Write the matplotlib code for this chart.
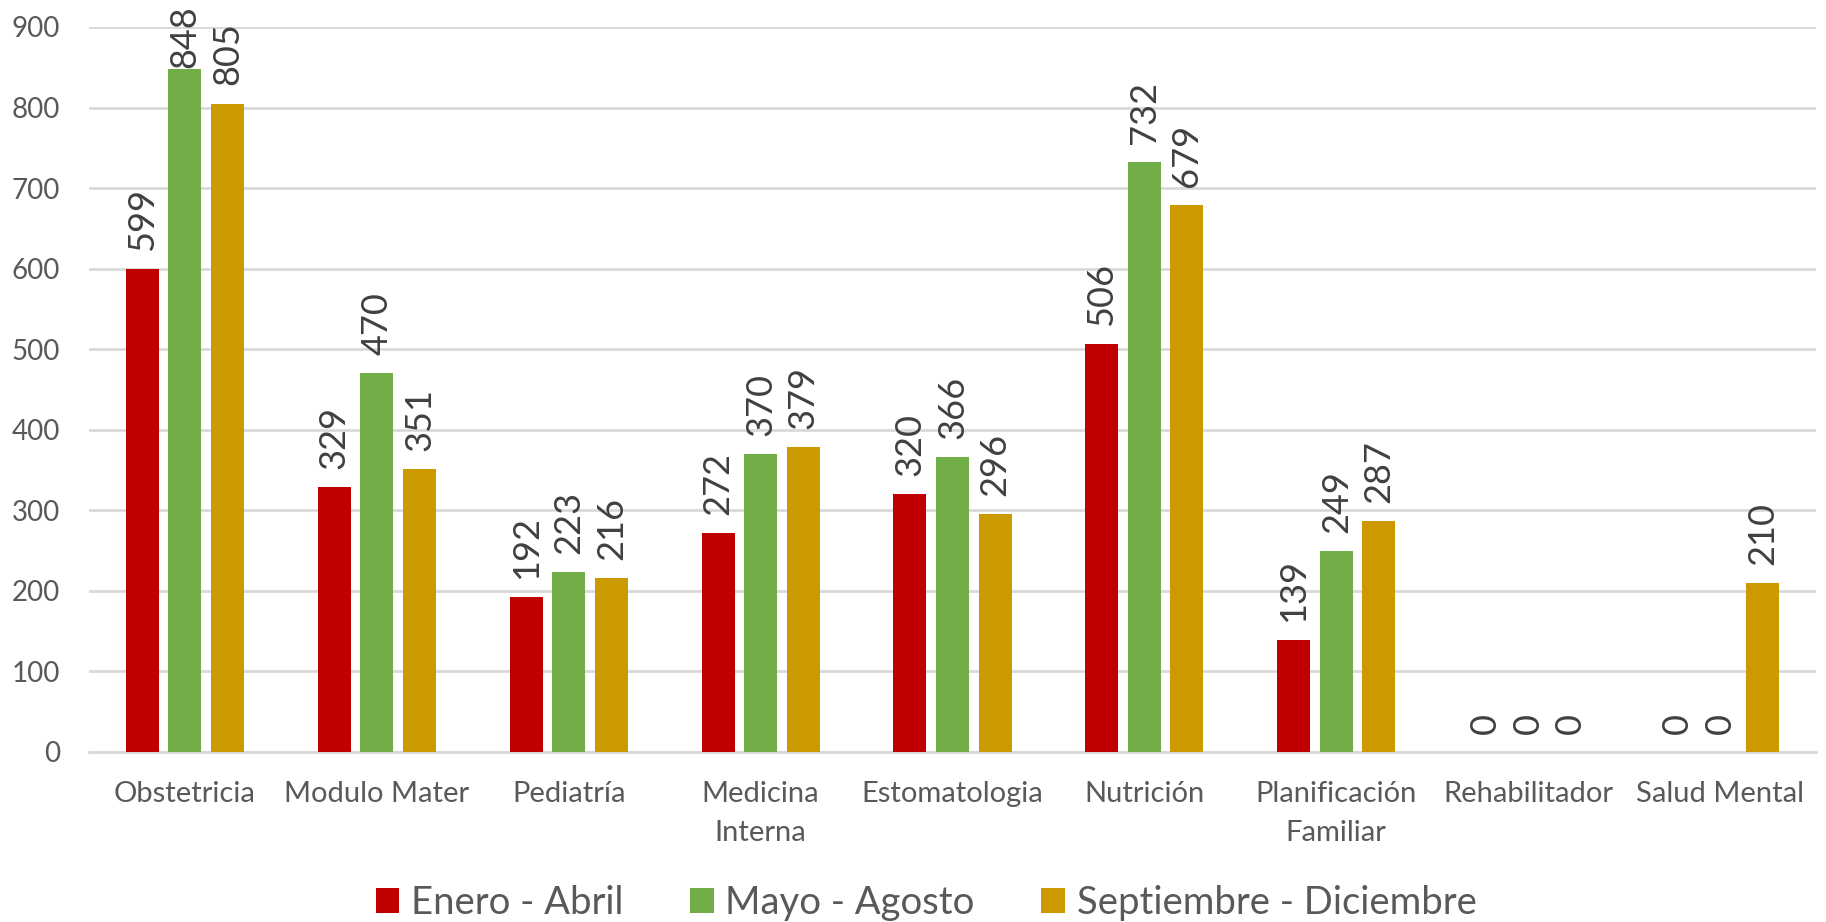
import matplotlib
matplotlib.use("Agg")
import matplotlib.pyplot as plt
import numpy as np

categories = ["Obstetricia", "Modulo Mater", "Pediatría", "Medicina\nInterna", "Estomatologia",
              "Nutrición", "Planificación\nFamiliar", "Rehabilitador", "Salud Mental"]
series_names = ["Enero - Abril", "Mayo - Agosto", "Septiembre - Diciembre"]
enero_abril = [599, 329, 192, 272, 320, 506, 139, 0, 0]
mayo_agosto = [848, 470, 223, 370, 366, 732, 249, 0, 0]
sept_dic = [805, 351, 216, 379, 296, 679, 287, 0, 210]
colors = ["#C00000", "#70AD47", "#CC9A00"]
yticks = [0, 100, 200, 300, 400, 500, 600, 700, 800, 900]

plt.rcParams['font.family'] = ['Lato', 'DejaVu Sans']
text_color = "#595959"
grid_color = "#D9D9D9"

DPI = 100
fig = plt.figure(figsize=(18.26, 9.22), dpi=DPI)
ax = fig.add_axes([89/1826, 1 - 752/922, (1816-89)/1826, (752-27)/922])

x = np.arange(len(categories))
bw = 0.172
step = 0.222
offset_pt = 13
annots = []
for i, (vals, col, name) in enumerate(zip([enero_abril, mayo_agosto, sept_dic], colors, series_names)):
    pos = x + (i - 1) * step
    bars = ax.bar(pos, vals, width=bw, color=col, label=name, zorder=3)
    for b, v in zip(bars, vals):
        a = ax.annotate(f"{v}", (b.get_x() + b.get_width() / 2, v), xytext=(0, offset_pt),
                        textcoords="offset points", rotation=90, ha="center", va="bottom",
                        fontsize=26, color="#404040", annotation_clip=False)
        annots.append(a)

ax.set_xlim(-0.5, len(categories) - 0.5)
ax.set_ylim(0, 900)
ax.set_yticks(yticks)
ax.set_yticklabels([str(t) for t in yticks])
ax.set_xticks(x)
ax.set_xticklabels(categories, linespacing=1.6)
ax.yaxis.grid(True, color=grid_color, linewidth=2, zorder=0)
ax.set_axisbelow(True)
for s in ["top", "right", "left"]:
    ax.spines[s].set_visible(False)
ax.spines["bottom"].set_color(grid_color)
ax.spines["bottom"].set_linewidth(2)
ax.tick_params(axis="y", length=0, pad=21, labelsize=20, labelcolor=text_color)
ax.tick_params(axis="x", length=0, pad=21, labelsize=21, labelcolor=text_color)

leg = fig.legend(loc="center", bbox_to_anchor=(926/1826, 1 - 903/922), ncol=3, frameon=False,
                 fontsize=27.5, handlelength=0.62, handleheight=0.62, handletextpad=0.3,
                 columnspacing=1.75, labelcolor=text_color)

# keep data labels inside the figure (like Excel does)
fig.canvas.draw()
renderer = fig.canvas.get_renderer()
fig_h = fig.bbox.height
margin = 5
for a in annots:
    ext = a.get_window_extent(renderer)
    if ext.y1 > fig_h - margin:
        shift_px = ext.y1 - (fig_h - margin)
        xt, yt = a.xyann
        a.xyann = (xt, yt - shift_px * 72 / DPI)

fig.savefig("out.png", dpi=DPI)
